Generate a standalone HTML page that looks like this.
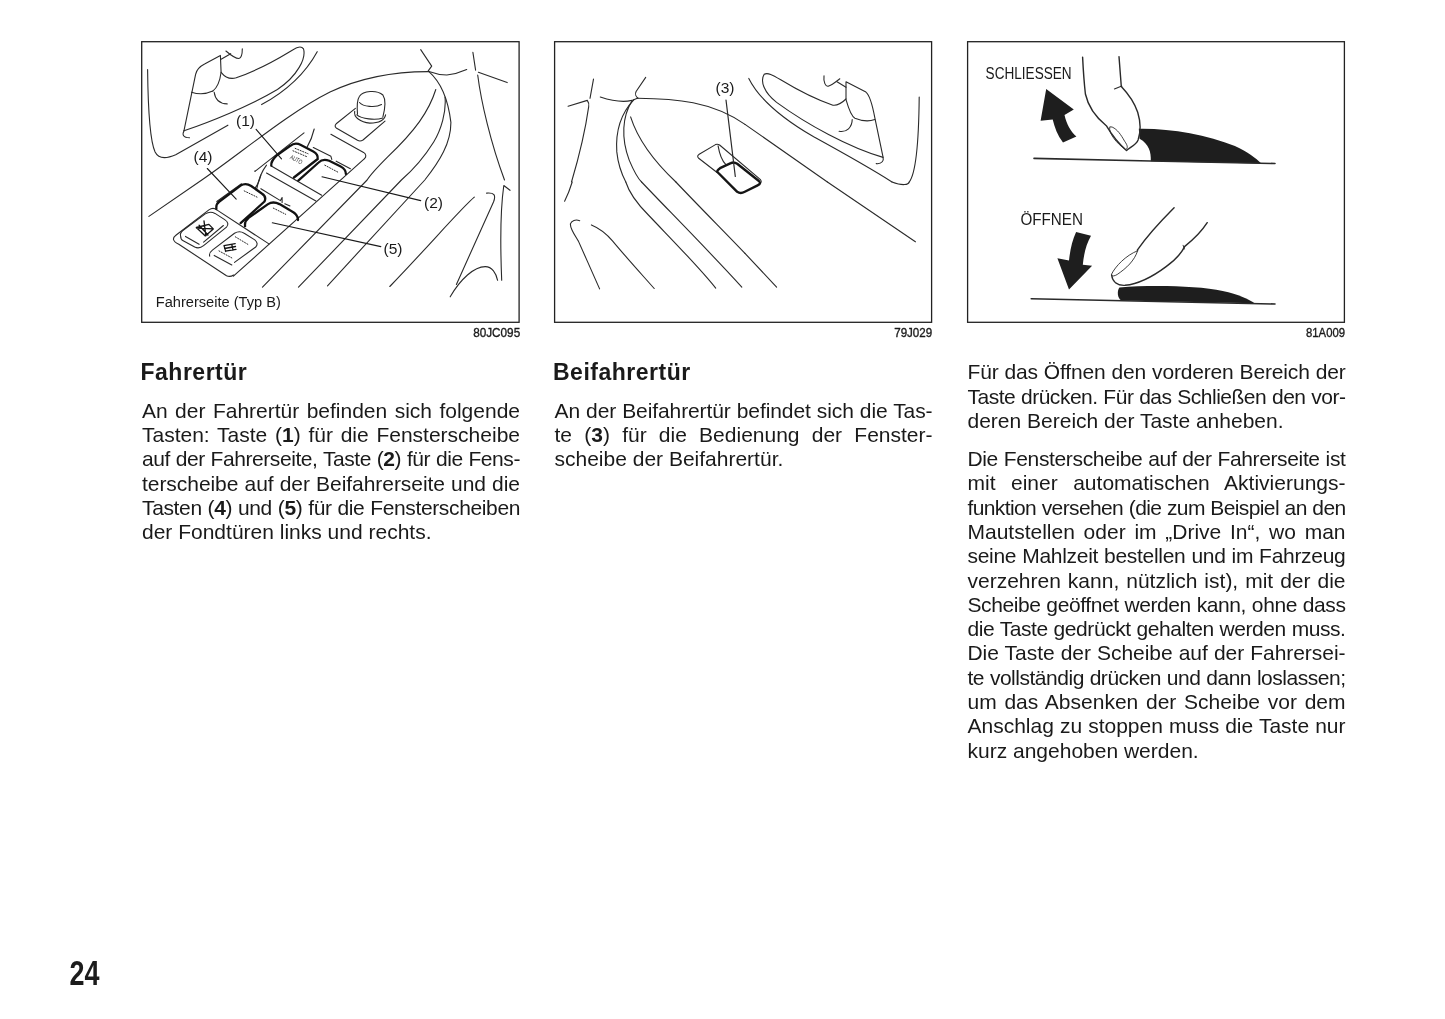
<!DOCTYPE html>
<html><head><meta charset="utf-8">
<style>
html,body{margin:0;padding:0;background:#fff;}
body{width:1445px;height:1019px;position:relative;overflow:hidden;filter:grayscale(1);font-family:"Liberation Sans",sans-serif;color:#1a1a1a;}
.l{position:absolute;width:378px;height:24.3px;line-height:24.3px;font-size:21.0px;white-space:nowrap;text-align:justify;text-align-last:justify;}
.l.last{text-align:left;text-align-last:left;}
.l b{font-weight:bold;}
.h{position:absolute;font-size:23px;line-height:24.3px;font-weight:bold;white-space:nowrap;letter-spacing:0.5px;margin-left:-1.5px;}
svg{position:absolute;left:0;top:0;}
</style></head><body>
<svg width="1445" height="1019" viewBox="0 0 1445 1019">
<g fill="none" stroke="#222" stroke-width="1.3">
<rect x="141.7" y="41.7" width="377.4" height="280.6"/>
<rect x="554.6" y="41.7" width="377.0" height="280.6"/>
<rect x="967.6" y="41.7" width="376.8" height="280.6"/>
</g>
<path d="M 1046.2,88.9 L 1073.8,109.5 L 1064.5,115.1 C 1066.7,124.4 1070.4,131.3 1076.4,136.6 L 1063.0,142.5 C 1057.4,135.1 1054.6,127.2 1052.7,119.4 L 1040.6,120.7 Z" fill="#1e1e1e" stroke="none" />
<path d="M 1138.8,128.7 C 1169.5,128.1 1206.8,134.7 1234.9,145.9 C 1248.0,151.9 1255.8,158.0 1261.4,163.5 L 1150.8,161.2 C 1151.2,151.9 1148.9,144.0 1139.6,138.8 Z" fill="#1e1e1e" stroke="none" />
<path d="M 1034.0,158.4 L 1150.8,161.0 L 1275.0,163.5" fill="none" stroke="#2a2a2a" stroke-width="1.6" stroke-linecap="round" stroke-linejoin="round" />
<path d="M 1082.6,57.1 C 1083.2,69.3 1084.3,84.2 1085.4,94.0 C 1088.2,106.7 1096.6,117.9 1106.3,125.7 C 1111.6,134.7 1118.1,143.1 1126.5,150.6 C 1129.3,147.4 1135.8,145.5 1138.1,139.9 C 1140.5,132.8 1140.5,121.6 1137.7,112.3 C 1134.3,102.0 1128.4,94.0 1121.3,86.5 L 1119.0,56.6" fill="none" stroke="#2a2a2a" stroke-width="1.4" stroke-linecap="round" stroke-linejoin="round" />
<path d="M 1114.4,88.9 L 1121.8,86.1" fill="none" stroke="#2a2a2a" stroke-width="1.1" stroke-linecap="round" stroke-linejoin="round" />
<path d="M 1109.7,127.2 C 1108.2,133.2 1117.2,144.0 1125.6,149.6 C 1128.0,148.3 1128.0,145.9 1124.6,141.2 C 1120.9,134.7 1117.5,129.5 1112.5,127.2 Z" fill="none" stroke="#2a2a2a" stroke-width="0.9" stroke-linecap="round" stroke-linejoin="round" />
<path d="M 1076.1,232.0 L 1091.0,235.8 C 1086.3,244.2 1083.9,253.5 1082.8,264.7 L 1092.1,265.7 L 1069.0,289.4 L 1057.4,258.2 L 1069.0,260.6 C 1070.1,249.8 1072.3,240.4 1076.1,232.0 Z" fill="#1e1e1e" stroke="none" />
<path d="M 1119.4,287.5 C 1150.8,284.9 1197.5,285.7 1222.7,290.9 C 1238.6,294.3 1248.9,299.1 1254.7,303.2 L 1121.8,300.6 C 1117.2,298.7 1116.8,290.9 1119.4,287.5 Z" fill="#1e1e1e" stroke="none" />
<path d="M 1031.2,298.7 L 1275.0,304.0" fill="none" stroke="#2a2a2a" stroke-width="1.6" stroke-linecap="round" stroke-linejoin="round" />
<path d="M 1174.1,207.8 C 1162.0,219.9 1148.9,233.3 1137.3,250.2" fill="none" stroke="#2a2a2a" stroke-width="1.4" stroke-linecap="round" stroke-linejoin="round" />
<path d="M 1137.7,250.7 C 1125.6,255.4 1115.3,266.6 1111.6,274.1 C 1111.2,276.3 1113.4,276.7 1117.2,274.5 C 1126.5,268.1 1134.3,261.0 1137.7,250.7 Z" fill="none" stroke="#2a2a2a" stroke-width="0.9" stroke-linecap="round" stroke-linejoin="round" />
<path d="M 1111.6,275.0 C 1112.5,281.9 1117.5,285.7 1125.0,285.3 C 1136.2,284.2 1151.2,277.8 1166.1,266.6 C 1177.0,258.8 1182.2,251.7 1184.8,246.4 C 1192.3,240.4 1201.6,231.5 1207.2,222.7" fill="none" stroke="#2a2a2a" stroke-width="1.4" stroke-linecap="round" stroke-linejoin="round" />
<path d="M 1183.1,245.3 L 1184.4,249.0" fill="none" stroke="#2a2a2a" stroke-width="0.9" stroke-linecap="round" stroke-linejoin="round" />
<path d="M 593.5,79.1 L 590.0,98.3" fill="none" stroke="#2a2a2a" stroke-width="1.1" stroke-linecap="round" stroke-linejoin="round" />
<path d="M 568.1,106.3 L 587.3,100.4 C 588.7,102.4 589.3,104.5 588.7,106.6 C 585.2,131.3 578.4,158.8 571.5,182.0" fill="none" stroke="#2a2a2a" stroke-width="1.1" stroke-linecap="round" stroke-linejoin="round" />
<path d="M 600.3,97.0 C 612.7,101.1 623.7,102.4 631.9,100.4 L 637.4,98.3" fill="none" stroke="#2a2a2a" stroke-width="1.1" stroke-linecap="round" stroke-linejoin="round" />
<path d="M 645.7,77.4 L 636.1,91.5 C 634.7,94.2 636.1,97.0 638.1,98.3" fill="none" stroke="#2a2a2a" stroke-width="1.1" stroke-linecap="round" stroke-linejoin="round" />
<path d="M 637.4,98.3 C 675.9,98.6 711.6,101.3 745.0,124.4" fill="none" stroke="#2a2a2a" stroke-width="1.1" stroke-linecap="round" stroke-linejoin="round" />
<path d="M 634.0,99.7 C 620.9,113.4 615.4,131.3 616.8,151.9 C 618.2,165.6 622.3,175.3 625.8,182.0" fill="none" stroke="#2a2a2a" stroke-width="1.1" stroke-linecap="round" stroke-linejoin="round" />
<path d="M 631.9,101.1 C 622.3,116.2 620.9,138.2 629.2,160.1 C 633.3,169.8 637.4,178.0 641.6,182.0" fill="none" stroke="#2a2a2a" stroke-width="1.1" stroke-linecap="round" stroke-linejoin="round" />
<path d="M 630.6,116.9 C 637.4,138.2 651.2,158.8 675.9,182.0" fill="none" stroke="#2a2a2a" stroke-width="1.1" stroke-linecap="round" stroke-linejoin="round" />
<path d="M 883.1,157.4 C 849.4,147.8 806.8,124.4 776.6,102.4 C 764.2,92.8 759.8,81.2 764.2,74.3 C 767.7,72.2 772.5,75.0 780.7,79.8 C 800.0,91.5 820.6,101.1 832.9,105.2 C 838.4,105.9 842.5,102.4 846.0,99.0" fill="none" stroke="#2a2a2a" stroke-width="1.1" stroke-linecap="round" stroke-linejoin="round" />
<path d="M 748.8,78.4 C 758.7,98.3 779.3,116.9 813.7,136.8 C 841.2,151.9 868.6,167.0 892.0,182.0" fill="none" stroke="#2a2a2a" stroke-width="1.1" stroke-linecap="round" stroke-linejoin="round" />
<path d="M 745.0,124.4 L 827.4,182.0" fill="none" stroke="#2a2a2a" stroke-width="1.1" stroke-linecap="round" stroke-linejoin="round" />
<path d="M 846.0,99.0 L 846.0,81.8 L 865.9,92.1 C 868.6,94.2 871.4,99.7 874.8,117.6 L 883.1,157.4 C 883.8,160.1 882.4,164.3 876.2,163.6" fill="none" stroke="#2a2a2a" stroke-width="1.1" stroke-linecap="round" stroke-linejoin="round" />
<path d="M 846.0,99.7 C 848.0,106.6 850.8,116.2 854.9,118.2 C 861.8,121.0 868.6,121.7 874.8,119.6" fill="none" stroke="#2a2a2a" stroke-width="1.1" stroke-linecap="round" stroke-linejoin="round" />
<path d="M 852.2,119.6 C 852.2,127.2 846.7,132.7 839.1,131.3" fill="none" stroke="#2a2a2a" stroke-width="1.1" stroke-linecap="round" stroke-linejoin="round" />
<path d="M 824.0,75.7 C 823.3,81.8 825.4,87.3 828.8,86.0 C 832.9,84.6 835.7,81.8 839.8,78.8" fill="none" stroke="#2a2a2a" stroke-width="1.1" stroke-linecap="round" stroke-linejoin="round" />
<path d="M 837.0,81.8 L 846.0,87.3" fill="none" stroke="#2a2a2a" stroke-width="1.1" stroke-linecap="round" stroke-linejoin="round" />
<path d="M 919.2,97.0 C 918.8,138.2 916.7,172.5 909.2,182.0" fill="none" stroke="#2a2a2a" stroke-width="1.1" stroke-linecap="round" stroke-linejoin="round" />
<path d="M 572.2,182.0 C 570.1,188.9 567.4,195.7 564.6,201.2" fill="none" stroke="#2a2a2a" stroke-width="1.1" stroke-linecap="round" stroke-linejoin="round" />
<path d="M 579.7,220.7 C 575.6,219.1 571.5,220.5 570.4,223.9 C 570.1,228.7 574.2,234.2 578.4,241.1 C 585.2,256.2 593.5,275.4 599.6,288.9" fill="none" stroke="#2a2a2a" stroke-width="1.1" stroke-linecap="round" stroke-linejoin="round" />
<path d="M 591.4,224.9 C 599.0,228.0 605.8,232.8 612.7,241.1 C 626.4,257.6 640.2,272.7 654.2,288.5" fill="none" stroke="#2a2a2a" stroke-width="1.1" stroke-linecap="round" stroke-linejoin="round" />
<path d="M 625.8,182.0 C 629.2,193.0 637.4,204.0 648.4,215.0 C 671.8,239.7 699.3,267.2 715.7,288.1" fill="none" stroke="#2a2a2a" stroke-width="1.1" stroke-linecap="round" stroke-linejoin="round" />
<path d="M 641.6,182.0 C 664.9,206.7 706.1,247.9 741.8,287.1" fill="none" stroke="#2a2a2a" stroke-width="1.1" stroke-linecap="round" stroke-linejoin="round" />
<path d="M 675.9,182.0 C 699.3,206.7 726.7,234.2 745.0,253.4" fill="none" stroke="#2a2a2a" stroke-width="1.1" stroke-linecap="round" stroke-linejoin="round" />
<path d="M 827.4,182.0 L 915.4,241.8" fill="none" stroke="#2a2a2a" stroke-width="1.1" stroke-linecap="round" stroke-linejoin="round" />
<path d="M 745.0,253.4 L 776.6,287.1" fill="none" stroke="#2a2a2a" stroke-width="1.1" stroke-linecap="round" stroke-linejoin="round" />
<path d="M 909.2,182.0 C 908.5,184.7 903.0,186.1 892.0,182.0" fill="none" stroke="#2a2a2a" stroke-width="1.1" stroke-linecap="round" stroke-linejoin="round" />
<path d="M 717.4,172.7 L 698.7,158.3 Q 696.4,156.1 699.2,154.2 L 715.5,144.6 Q 717.4,143.6 719.6,145.0 L 760.2,179.4 Q 762.4,182.0 759.9,183.8" fill="none" stroke="#2a2a2a" stroke-width="1.1" stroke-linecap="round" stroke-linejoin="round" />
<path d="M 718.1,145.9 C 719.3,152.9 721.9,160.6 725.7,164.4" fill="none" stroke="#2a2a2a" stroke-width="1.1" stroke-linecap="round" stroke-linejoin="round" />
<path d="M 717.4,172.0 C 716.8,170.8 718.1,169.5 720.0,168.2 L 730.8,163.1 C 733.4,161.8 735.3,162.5 737.2,163.8 L 758.9,181.0 C 760.8,182.9 760.2,184.2 757.6,185.4 L 744.8,191.8 C 742.3,193.1 739.1,193.1 737.2,191.8 Z" fill="none" stroke="#151515" stroke-width="2.4" stroke-linecap="round" stroke-linejoin="round" />
<path d="M 726.0,100.0 L 735.3,176.5" fill="none" stroke="#2a2a2a" stroke-width="1.2" stroke-linecap="round" stroke-linejoin="round" />
<path d="M 147.6,69.5 C 148.0,105.9 150.3,141.7 155.1,152.0 C 158.5,158.8 165.4,159.2 175.7,154.7 L 227.9,125.2" fill="none" stroke="#2a2a2a" stroke-width="1.1" stroke-linecap="round" stroke-linejoin="round" />
<path d="M 184.0,130.7 C 208.7,122.4 249.9,105.9 277.4,89.5 C 298.0,75.7 306.2,57.9 303.5,48.9 C 300.7,44.8 295.2,48.2 289.7,51.7 C 270.5,63.4 249.9,73.0 236.2,77.8 C 229.3,79.8 223.8,75.7 221.1,72.3" fill="none" stroke="#2a2a2a" stroke-width="1.1" stroke-linecap="round" stroke-linejoin="round" />
<path d="M 184.0,130.7 L 195.6,74.3 C 197.0,68.2 200.4,66.1 204.6,64.0 L 220.4,55.4 L 221.1,72.3 C 219.7,82.6 216.9,88.1 212.8,91.1" fill="none" stroke="#2a2a2a" stroke-width="1.1" stroke-linecap="round" stroke-linejoin="round" />
<path d="M 191.5,92.2 C 197.7,94.3 205.9,94.3 212.8,91.1" fill="none" stroke="#2a2a2a" stroke-width="1.1" stroke-linecap="round" stroke-linejoin="round" />
<path d="M 214.2,92.2 C 214.9,97.7 217.6,103.5 227.2,103.9" fill="none" stroke="#2a2a2a" stroke-width="1.1" stroke-linecap="round" stroke-linejoin="round" />
<path d="M 184.0,130.7 C 181.9,134.8 183.3,137.8 189.5,137.8" fill="none" stroke="#2a2a2a" stroke-width="1.1" stroke-linecap="round" stroke-linejoin="round" />
<path d="M 221.1,59.2 L 230.7,53.7" fill="none" stroke="#2a2a2a" stroke-width="1.1" stroke-linecap="round" stroke-linejoin="round" />
<path d="M 225.9,51.0 C 230.7,55.1 234.8,58.5 238.9,58.5 C 241.7,57.9 242.3,53.7 242.3,48.9" fill="none" stroke="#2a2a2a" stroke-width="1.1" stroke-linecap="round" stroke-linejoin="round" />
<path d="M 261.6,104.6 C 284.3,92.2 304.9,74.3 317.2,51.7" fill="none" stroke="#2a2a2a" stroke-width="1.1" stroke-linecap="round" stroke-linejoin="round" />
<path d="M 148.9,216.4 L 201.8,180.0 C 240.0,154.0 288.0,113.0 330.0,92.0 C 362.0,77.0 398.0,71.5 428.9,71.6" fill="none" stroke="#2a2a2a" stroke-width="1.1" stroke-linecap="round" stroke-linejoin="round" />
<path d="M 435.8,89.5 C 428.9,111.4 415.2,130.7 387.7,156.8 C 379.5,165.0 371.2,173.3 367.1,180.0 L 262.5,287.2" fill="none" stroke="#2a2a2a" stroke-width="1.1" stroke-linecap="round" stroke-linejoin="round" />
<path d="M 445.0,97.0 C 446.5,112.0 441.0,130.0 433.7,142.0 C 425.0,156.0 414.0,169.0 401.4,180.0 L 298.5,287.2" fill="none" stroke="#2a2a2a" stroke-width="1.1" stroke-linecap="round" stroke-linejoin="round" />
<path d="M 428.9,71.6 C 439.9,81.2 448.1,99.1 450.9,122.4 C 450.9,143.0 439.9,160.9 424.8,180.0 L 327.5,285.8" fill="none" stroke="#2a2a2a" stroke-width="1.1" stroke-linecap="round" stroke-linejoin="round" />
<path d="M 364.5,158.6 L 233.4,276.2" fill="none" stroke="#2a2a2a" stroke-width="1.1" stroke-linecap="round" stroke-linejoin="round" />
<path d="M 428.9,71.6 C 434.4,73.7 439.9,75.0 446.8,75.0 C 453.6,74.3 460.5,72.3 466.7,69.5" fill="none" stroke="#2a2a2a" stroke-width="1.1" stroke-linecap="round" stroke-linejoin="round" />
<path d="M 420.7,49.6 L 431.7,66.1 L 428.2,70.9" fill="none" stroke="#2a2a2a" stroke-width="1.1" stroke-linecap="round" stroke-linejoin="round" />
<path d="M 472.9,52.4 L 475.6,70.2" fill="none" stroke="#2a2a2a" stroke-width="1.1" stroke-linecap="round" stroke-linejoin="round" />
<path d="M 478.4,72.3 L 507.2,82.6" fill="none" stroke="#2a2a2a" stroke-width="1.1" stroke-linecap="round" stroke-linejoin="round" />
<path d="M 477.7,75.0 C 481.1,101.8 490.7,143.0 504.5,180.0" fill="none" stroke="#2a2a2a" stroke-width="1.1" stroke-linecap="round" stroke-linejoin="round" />
<path d="M 357.5,114.2 C 356.8,105.9 357.5,99.1 359.5,96.3 C 363.0,90.8 376.7,89.5 382.9,95.0 C 385.6,99.1 385.0,108.7 382.9,116.9" fill="none" stroke="#2a2a2a" stroke-width="1.1" stroke-linecap="round" stroke-linejoin="round" />
<path d="M 359.5,102.5 C 363.0,106.6 375.3,108.0 381.5,104.6" fill="none" stroke="#2a2a2a" stroke-width="1.1" stroke-linecap="round" stroke-linejoin="round" />
<path d="M 354.7,111.4 C 353.4,116.9 360.2,122.4 369.8,123.1 C 378.1,123.1 384.3,121.1 385.6,114.9" fill="none" stroke="#2a2a2a" stroke-width="1.1" stroke-linecap="round" stroke-linejoin="round" />
<path d="M 356.8,114.9 C 361.6,119.0 375.3,120.4 382.9,118.0" fill="none" stroke="#2a2a2a" stroke-width="1.1" stroke-linecap="round" stroke-linejoin="round" />
<path d="M 355.4,108.4 L 336.2,123.8 Q 334.1,125.9 336.2,127.9 L 357.5,140.3 Q 360.2,141.7 363.0,140.0 L 385.0,121.1" fill="none" stroke="#2a2a2a" stroke-width="1.1" stroke-linecap="round" stroke-linejoin="round" />
<path d="M 474.3,197.2 C 461.9,207.5 428.9,245.9 389.8,286.5" fill="none" stroke="#2a2a2a" stroke-width="1.1" stroke-linecap="round" stroke-linejoin="round" />
<path d="M 456.4,284.4 L 493.5,202.0 C 496.2,195.1 494.2,192.4 486.6,193.1" fill="none" stroke="#2a2a2a" stroke-width="1.1" stroke-linecap="round" stroke-linejoin="round" />
<path d="M 501.7,280.3 C 500.4,248.7 499.7,214.3 503.8,185.5 L 510.0,190.3" fill="none" stroke="#2a2a2a" stroke-width="1.1" stroke-linecap="round" stroke-linejoin="round" />
<path d="M 450.2,296.8 C 460.5,278.9 474.3,266.6 485.2,266.6 C 492.1,266.6 496.2,273.4 497.6,280.3" fill="none" stroke="#2a2a2a" stroke-width="1.1" stroke-linecap="round" stroke-linejoin="round" />
<path d="M 255.0,171.4 L 304.0,132.9" fill="none" stroke="#2a2a2a" stroke-width="1.1" stroke-linecap="round" stroke-linejoin="round" />
<path d="M 314.2,129.0 C 312.4,136.5 309.7,142.7 307.1,147.1" fill="none" stroke="#2a2a2a" stroke-width="1.1" stroke-linecap="round" stroke-linejoin="round" />
<path d="M 313.3,147.5 L 330.9,156.3 L 331.8,159.4" fill="none" stroke="#2a2a2a" stroke-width="1.1" stroke-linecap="round" stroke-linejoin="round" />
<path d="M 336.2,161.2 L 350.4,168.7" fill="none" stroke="#2a2a2a" stroke-width="1.1" stroke-linecap="round" stroke-linejoin="round" />
<path d="M 330.9,134.3 L 363.6,152.4 C 366.3,154.1 366.4,156.8 364.5,158.6" fill="none" stroke="#2a2a2a" stroke-width="1.1" stroke-linecap="round" stroke-linejoin="round" />
<path d="M 271.3,166.1 L 321.7,195.2" fill="none" stroke="#2a2a2a" stroke-width="1.1" stroke-linecap="round" stroke-linejoin="round" />
<path d="M 266.5,173.1 L 315.9,201.1" fill="none" stroke="#2a2a2a" stroke-width="1.1" stroke-linecap="round" stroke-linejoin="round" />
<path d="M 266.5,165.2 C 262.1,170.9 258.5,179.7 256.8,188.6" fill="none" stroke="#2a2a2a" stroke-width="1.1" stroke-linecap="round" stroke-linejoin="round" />
<path d="M 255.0,170.9 L 255.0,170.9" fill="none" stroke="#2a2a2a" stroke-width="1.1" stroke-linecap="round" stroke-linejoin="round" />
<path d="M 271.3,165.6 C 270.9,162.1 272.7,159.4 276.2,155.9 L 290.3,145.8 C 293.0,143.5 297.4,143.1 300.9,144.9 L 313.3,151.5 C 316.8,153.3 318.1,155.9 317.7,159.0 L 293.9,177.5" fill="none" stroke="#121212" stroke-width="2.3" stroke-linecap="round" stroke-linejoin="round" />
<path d="M 298.3,180.6 L 318.6,162.5 C 321.2,159.9 325.6,159.4 329.2,160.8 L 340.7,166.5 C 344.2,168.3 345.9,170.9 345.9,174.0" fill="none" stroke="#121212" stroke-width="2.3" stroke-linecap="round" stroke-linejoin="round" />
<path d="M 295.2,148.4 L 308.0,153.7" fill="none" stroke="#2a2a2a" stroke-width="1.0" stroke-linecap="round" stroke-linejoin="round" stroke-dasharray="1.1 1.6"/>
<path d="M 293.0,150.8 L 307.1,156.8" fill="none" stroke="#2a2a2a" stroke-width="1.0" stroke-linecap="round" stroke-linejoin="round" stroke-dasharray="1.1 1.6"/>
<path d="M 324.8,165.2 L 338.0,172.2" fill="none" stroke="#2a2a2a" stroke-width="1.0" stroke-linecap="round" stroke-linejoin="round" stroke-dasharray="1.1 1.6"/>
<text transform="translate(289.5,158.5) rotate(28)" font-family="Liberation Sans, sans-serif" font-size="6.5" fill="#333" textLength="13" lengthAdjust="spacingAndGlyphs">AUTO</text>
<path d="M 216.8,201.5 L 241.5,183.8" fill="none" stroke="#2a2a2a" stroke-width="1.1" stroke-linecap="round" stroke-linejoin="round" />
<path d="M 260.9,175.0 C 259.2,181.2 257.4,185.6 255.2,187.8" fill="none" stroke="#2a2a2a" stroke-width="1.1" stroke-linecap="round" stroke-linejoin="round" />
<path d="M 260.9,188.7 L 280.4,200.6 L 282.1,197.5 L 282.1,202.4" fill="none" stroke="#2a2a2a" stroke-width="1.1" stroke-linecap="round" stroke-linejoin="round" />
<path d="M 284.8,203.7 L 290.0,205.9" fill="none" stroke="#2a2a2a" stroke-width="1.1" stroke-linecap="round" stroke-linejoin="round" />
<path d="M 173.5,239.5 C 173.1,237.7 174.4,236.4 176.2,235.0 L 208.9,209.9 C 211.5,208.1 214.6,208.1 216.8,209.9 L 268.9,243.9" fill="none" stroke="#2a2a2a" stroke-width="1.1" stroke-linecap="round" stroke-linejoin="round" />
<path d="M 173.5,239.5 C 174.0,241.7 176.2,243.0 178.8,244.3 L 226.5,275.7 Q 230.0,277.4 233.6,275.0" fill="none" stroke="#2a2a2a" stroke-width="1.1" stroke-linecap="round" stroke-linejoin="round" />
<path d="M 180.6,235.9 C 179.7,233.7 181.0,232.0 183.2,230.2 L 205.3,213.9 C 208.9,211.6 212.4,212.1 215.0,213.4 L 224.7,219.6 C 228.3,221.8 228.7,224.9 226.5,227.1 L 203.6,245.6 C 200.9,247.8 197.4,248.3 194.7,247.0 L 183.2,240.8 C 181.5,239.9 180.6,237.9 180.6,235.9 Z" fill="none" stroke="#2a2a2a" stroke-width="1.1" stroke-linecap="round" stroke-linejoin="round" />
<path d="M 185.5,236.4 L 199.1,244.3" fill="none" stroke="#2a2a2a" stroke-width="1.1" stroke-linecap="round" stroke-linejoin="round" />
<path d="M 223.4,225.5 L 203.6,242.1" fill="none" stroke="#2a2a2a" stroke-width="1.1" stroke-linecap="round" stroke-linejoin="round" />
<path d="M 209.7,256.2 C 208.9,253.6 210.2,251.8 212.4,250.1 L 234.5,233.3 C 238.0,231.1 241.5,231.5 244.2,233.3 L 254.8,239.9 C 257.4,242.1 257.9,244.8 255.7,247.0 L 234.5,262.4" fill="none" stroke="#2a2a2a" stroke-width="1.1" stroke-linecap="round" stroke-linejoin="round" />
<path d="M 214.2,255.4 L 231.8,265.0" fill="none" stroke="#2a2a2a" stroke-width="1.1" stroke-linecap="round" stroke-linejoin="round" />
<path d="M 216.4,209.0 C 215.9,205.5 216.8,203.3 219.4,201.5 L 240.6,185.6 C 244.2,183.4 247.7,183.8 251.2,186.0 L 261.8,193.5 C 265.4,195.8 265.8,198.8 264.5,201.5 L 240.6,223.1" fill="none" stroke="#121212" stroke-width="2.3" stroke-linecap="round" stroke-linejoin="round" />
<path d="M 245.1,226.2 C 244.6,223.1 245.9,220.0 248.6,217.8 L 268.0,204.1 C 271.5,201.9 276.0,202.4 279.5,204.1 L 290.0,210.3 C 295.4,213.0 298.2,216.5 298.0,220.0" fill="none" stroke="#121212" stroke-width="2.3" stroke-linecap="round" stroke-linejoin="round" />
<path d="M 244.2,190.9 L 257.0,197.1" fill="none" stroke="#2a2a2a" stroke-width="1.0" stroke-linecap="round" stroke-linejoin="round" stroke-dasharray="1.1 1.6"/>
<path d="M 273.3,208.1 L 285.7,214.3" fill="none" stroke="#2a2a2a" stroke-width="1.0" stroke-linecap="round" stroke-linejoin="round" stroke-dasharray="1.1 1.6"/>
<path d="M 235.3,236.8 L 248.6,244.8" fill="none" stroke="#2a2a2a" stroke-width="1.0" stroke-linecap="round" stroke-linejoin="round" stroke-dasharray="1.1 1.6"/>
<path d="M 219.0,250.9 L 232.7,258.4" fill="none" stroke="#2a2a2a" stroke-width="1.0" stroke-linecap="round" stroke-linejoin="round" stroke-dasharray="1.1 1.6"/>
<path d="M 196.3,227.5 L 208.9,224.4 L 213.3,228.9 L 205.3,235.9 Z M 196.5,228.0 L 212.8,228.9 M 199.1,225.3 L 208.0,235.0 M 204.0,220.9 L 205.8,235.9" fill="none" stroke="#151515" stroke-width="1.3" stroke-linecap="round" stroke-linejoin="round" />
<path d="M 224.0,245.6 L 235.2,243.7 M 224.6,248.5 L 235.5,246.5 M 225.5,251.1 L 236.0,249.3 M 224.0,245.6 L 225.8,251.5 M 231.8,244.5 L 233.0,250.2" fill="none" stroke="#151515" stroke-width="1.3" stroke-linecap="round" stroke-linejoin="round" />
<path d="M 256.1,129.3 L 281.5,158.8" fill="none" stroke="#1a1a1a" stroke-width="1.1" stroke-linecap="round" stroke-linejoin="round" />
<path d="M 207.3,168.5 L 236.2,199.2" fill="none" stroke="#1a1a1a" stroke-width="1.1" stroke-linecap="round" stroke-linejoin="round" />
<path d="M 322.0,176.8 L 420.7,200.6" fill="none" stroke="#1a1a1a" stroke-width="1.1" stroke-linecap="round" stroke-linejoin="round" />
<path d="M 272.3,222.8 L 380.8,246.6" fill="none" stroke="#1a1a1a" stroke-width="1.1" stroke-linecap="round" stroke-linejoin="round" />
<text x="236.0" y="126.3" font-family="Liberation Sans, sans-serif" font-size="15.2" font-weight="normal" fill="#1a1a1a" textLength="19" lengthAdjust="spacingAndGlyphs">(1)</text>
<text x="193.5" y="162.0" font-family="Liberation Sans, sans-serif" font-size="15.2" font-weight="normal" fill="#1a1a1a" textLength="19" lengthAdjust="spacingAndGlyphs">(4)</text>
<text x="424.0" y="207.9" font-family="Liberation Sans, sans-serif" font-size="15.2" font-weight="normal" fill="#1a1a1a" textLength="19" lengthAdjust="spacingAndGlyphs">(2)</text>
<text x="383.5" y="253.9" font-family="Liberation Sans, sans-serif" font-size="15.2" font-weight="normal" fill="#1a1a1a" textLength="19" lengthAdjust="spacingAndGlyphs">(5)</text>
<text x="715.5" y="93.1" font-family="Liberation Sans, sans-serif" font-size="15.2" font-weight="normal" fill="#1a1a1a" textLength="19" lengthAdjust="spacingAndGlyphs">(3)</text>
<text x="985.6" y="78.6" font-family="Liberation Sans, sans-serif" font-size="16.3" font-weight="normal" fill="#1a1a1a" textLength="86" lengthAdjust="spacingAndGlyphs">SCHLIESSEN</text>
<text x="1020.4" y="224.6" font-family="Liberation Sans, sans-serif" font-size="16.0" font-weight="normal" fill="#1a1a1a" textLength="62.5" lengthAdjust="spacingAndGlyphs">ÖFFNEN</text>
<text x="155.8" y="306.8" font-family="Liberation Sans, sans-serif" font-size="15.4" font-weight="normal" fill="#1a1a1a" textLength="125" lengthAdjust="spacingAndGlyphs">Fahrerseite (Typ B)</text>
<text x="473.2" y="336.6" font-family="Liberation Sans, sans-serif" font-size="12.6" font-weight="normal" fill="#1a1a1a" stroke="#1a1a1a" stroke-width="0.35" textLength="47" lengthAdjust="spacingAndGlyphs">80JC095</text>
<text x="894.2" y="336.6" font-family="Liberation Sans, sans-serif" font-size="12.6" font-weight="normal" fill="#1a1a1a" stroke="#1a1a1a" stroke-width="0.35" textLength="38" lengthAdjust="spacingAndGlyphs">79J029</text>
<text x="1306.0" y="336.6" font-family="Liberation Sans, sans-serif" font-size="12.6" font-weight="normal" fill="#1a1a1a" stroke="#1a1a1a" stroke-width="0.35" textLength="39" lengthAdjust="spacingAndGlyphs">81A009</text>
<text x="69.6" y="984.8" font-family="Liberation Sans, sans-serif" font-size="34.8" font-weight="bold" fill="#1c1c1c" textLength="30" lengthAdjust="spacingAndGlyphs">24</text>
</svg>
<div class="h" style="left:142.0px;top:359.95px">Fahrertür</div>
<div class="l" id="L0" style="left:142.0px;top:398.81px">An der Fahrertür befinden sich folgende</div>
<div class="l" id="L1" style="left:142.0px;top:423.11px">Tasten: Taste (<b>1</b>) für die Fensterscheibe</div>
<div class="l" id="L2" style="left:142.0px;top:447.41px;letter-spacing:-0.419px">auf der Fahrerseite, Taste (<b>2</b>) für die Fens-</div>
<div class="l" id="L3" style="left:142.0px;top:471.71px;letter-spacing:-0.051px">terscheibe auf der Beifahrerseite und die</div>
<div class="l" id="L4" style="left:142.0px;top:496.01px;letter-spacing:-0.363px">Tasten (<b>4</b>) und (<b>5</b>) für die Fensterscheiben</div>
<div class="l last" id="L5" style="left:142.0px;top:520.31px">der Fondtüren links und rechts.</div>
<div class="h" style="left:554.5px;top:359.95px">Beifahrertür</div>
<div class="l" id="L6" style="left:554.5px;top:398.81px;letter-spacing:-0.097px">An der Beifahrertür befindet sich die Tas-</div>
<div class="l" id="L7" style="left:554.5px;top:423.11px">te (<b>3</b>) für die Bedienung der Fenster-</div>
<div class="l last" id="L8" style="left:554.5px;top:447.41px">scheibe der Beifahrertür.</div>
<div class="l" id="L9" style="left:967.5px;top:360.21px;letter-spacing:-0.165px">Für das Öffnen den vorderen Bereich der</div>
<div class="l" id="L10" style="left:967.5px;top:384.51px;letter-spacing:-0.488px">Taste drücken. Für das Schließen den vor-</div>
<div class="l last" id="L11" style="left:967.5px;top:408.81px">deren Bereich der Taste anheben.</div>
<div class="l" id="L12" style="left:967.5px;top:447.01px;letter-spacing:-0.362px">Die Fensterscheibe auf der Fahrerseite ist</div>
<div class="l" id="L13" style="left:967.5px;top:471.31px">mit einer automatischen Aktivierungs-</div>
<div class="l" id="L14" style="left:967.5px;top:495.61px;letter-spacing:-0.619px">funktion versehen (die zum Beispiel an den</div>
<div class="l" id="L15" style="left:967.5px;top:519.91px">Mautstellen oder im „Drive In“, wo man</div>
<div class="l" id="L16" style="left:967.5px;top:544.21px;letter-spacing:-0.290px">seine Mahlzeit bestellen und im Fahrzeug</div>
<div class="l" id="L17" style="left:967.5px;top:568.51px">verzehren kann, nützlich ist), mit der die</div>
<div class="l" id="L18" style="left:967.5px;top:592.81px;letter-spacing:-0.412px">Scheibe geöffnet werden kann, ohne dass</div>
<div class="l" id="L19" style="left:967.5px;top:617.11px;letter-spacing:-0.431px">die Taste gedrückt gehalten werden muss.</div>
<div class="l" id="L20" style="left:967.5px;top:641.41px;letter-spacing:-0.041px">Die Taste der Scheibe auf der Fahrersei-</div>
<div class="l" id="L21" style="left:967.5px;top:665.71px;letter-spacing:-0.478px">te vollständig drücken und dann loslassen;</div>
<div class="l" id="L22" style="left:967.5px;top:690.01px">um das Absenken der Scheibe vor dem</div>
<div class="l" id="L23" style="left:967.5px;top:714.31px">Anschlag zu stoppen muss die Taste nur</div>
<div class="l last" id="L24" style="left:967.5px;top:738.61px">kurz angehoben werden.</div>




</body></html>
